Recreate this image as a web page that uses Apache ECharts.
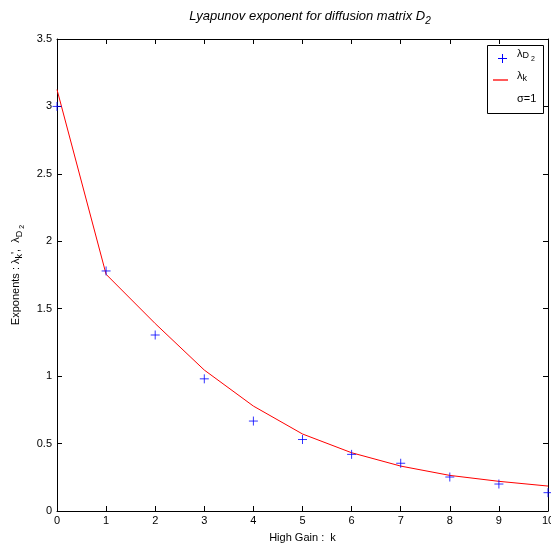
<!DOCTYPE html>
<html><head><meta charset="utf-8">
<script src="https://cdn.jsdelivr.net/npm/echarts@6/dist/echarts.min.js"></script>
<style>html,body{margin:0;padding:0;background:#fff;overflow:hidden}#c{width:551px;height:550px}</style>
</head><body><div id="c"></div>
<script>
const kValues = [0,1,2,3,4,5,6,7,8,9,10];
const lambdaD2 = [3.0,1.78,1.305,0.98,0.667,0.53,0.42,0.354,0.252,0.2,0.136];
const lambdaK = [3.125,1.755,1.39,1.045,0.778,0.571,0.432,0.333,0.264,0.22,0.185];
const xTicks = [0,1,2,3,4,5,6,7,8,9,10];
const yTicks = [0,0.5,1,1.5,2,2.5,3,3.5];

const FONT = 'Liberation Sans, Arial, sans-serif';
const plusPath = 'path://M0,5 L10,5 M5,0 L5,10';
const chart = echarts.init(document.getElementById('c'));
const fmtY = v => (yTicks.indexOf(v) >= 0 ? String(v) : '');
const txt = {fontFamily: FONT, color: '#000', fontWeight: 'normal'};
chart.setOption({
  animation: false,
  backgroundColor: '#fff',
  title: {
    text: '{a|Lyapunov exponent for diffusion matrix D}{s|2}',
    left: 305, top: 2, textAlign: 'center',
    textStyle: {
      fontWeight: 'normal',
      rich: {
        a: Object.assign({fontSize: 13, fontStyle: 'italic'}, txt),
        s: Object.assign({fontSize: 10, fontStyle: 'italic', padding: [9,0,0,0]}, txt)
      }
    }
  },
  grid: {left: 57, right: 3, top: 39, bottom: 39, containLabel: false, outerBoundsMode: 'none'},
  xAxis: [{
    type: 'value', min: 0, max: 10, interval: 1,
    name: 'High Gain :  k', nameLocation: 'middle', nameGap: 21,
    nameTextStyle: {fontFamily: FONT, fontSize: 11, color: '#000'},
    axisLine: {show: true, onZero: false, lineStyle: {color: '#000', width: 1}},
    axisTick: {show: true, inside: true, length: 5, lineStyle: {color: '#000'}},
    axisLabel: {fontFamily: FONT, fontSize: 11, color: '#000', margin: 4, showMaxLabel: true},
    splitLine: {show: false}
  }, {
    type: 'value', min: 0, max: 10, interval: 1, position: 'top',
    axisLine: {show: true, onZero: false, lineStyle: {color: '#000', width: 1}},
    axisTick: {show: true, inside: true, length: 5, lineStyle: {color: '#000'}},
    axisLabel: {show: false}, splitLine: {show: false}
  }],
  yAxis: [{
    type: 'value', min: 0, max: 3.5, interval: 0.5,
    name: '{a|Exponents : λ}{s|k}{a|\',  λ}{s|D}{ss| 2}', nameLocation: 'middle', nameGap: 25,
    nameTextStyle: {
      rich: {
        a: Object.assign({fontSize: 11}, txt),
        s: Object.assign({fontSize: 9, padding: [6,0,0,0]}, txt),
        ss: Object.assign({fontSize: 7, padding: [12,0,0,0]}, txt)
      }
    },
    axisLine: {show: true, onZero: false, lineStyle: {color: '#000', width: 1}},
    axisTick: {show: true, inside: true, length: 5, lineStyle: {color: '#000'}},
    axisLabel: {fontFamily: FONT, fontSize: 11, color: '#000', margin: 5, formatter: fmtY},
    splitLine: {show: false}
  }, {
    type: 'value', min: 0, max: 3.5, interval: 0.5, position: 'right',
    axisLine: {show: true, onZero: false, lineStyle: {color: '#000', width: 1}},
    axisTick: {show: true, inside: true, length: 5, lineStyle: {color: '#000'}},
    axisLabel: {show: false}, splitLine: {show: false}
  }],
  graphic: [
    {type: 'rect', left: 487, top: 45, z: 10, shape: {width: 56, height: 68},
     style: {fill: '#fff', stroke: '#000', lineWidth: 1}},
    {type: 'rect', left: 498, top: 58, z: 11, shape: {width: 9, height: 1}, style: {fill: '#0000ff'}},
    {type: 'rect', left: 502, top: 54, z: 11, shape: {width: 1, height: 9}, style: {fill: '#0000ff'}},
    {type: 'text', left: 517, top: 48, z: 11, style: {
      text: '{l|λ}{s|D}{ss| 2}',
      rich: {
        l: Object.assign({fontSize: 11}, txt),
        s: Object.assign({fontSize: 9, padding: [5,0,0,0]}, txt),
        ss: Object.assign({fontSize: 7, padding: [12,0,0,0]}, txt)
      }}},
    {type: 'rect', left: 493, top: 79, z: 11, shape: {width: 15, height: 2}, style: {fill: '#ff5a5a'}},
    {type: 'text', left: 517, top: 70, z: 11, style: {
      text: '{l|λ}{s|k}',
      rich: {
        l: Object.assign({fontSize: 11}, txt),
        s: Object.assign({fontSize: 9, padding: [7,0,0,0]}, txt)
      }}},
    {type: 'text', left: 517, top: 93, z: 11, style: {text: 'σ=1', fontFamily: FONT, fontSize: 11, fill: '#000'}}
  ],
  series: [
    {
      name: 'lD2', type: 'scatter', symbol: plusPath, symbolSize: 9,
      itemStyle: {color: 'transparent', borderColor: '#0000ff', borderWidth: 1},
      emphasis: {disabled: true},
      data: kValues.map((k, i) => [k, lambdaD2[i]]), z: 3
    },
    {
      name: 'lk', type: 'line', showSymbol: false, symbol: 'none',
      lineStyle: {color: '#ff0000', width: 1}, itemStyle: {color: '#ff0000'},
      emphasis: {disabled: true},
      data: kValues.map((k, i) => [k, lambdaK[i]]), z: 2
    }
  ]
});
</script></body></html>
